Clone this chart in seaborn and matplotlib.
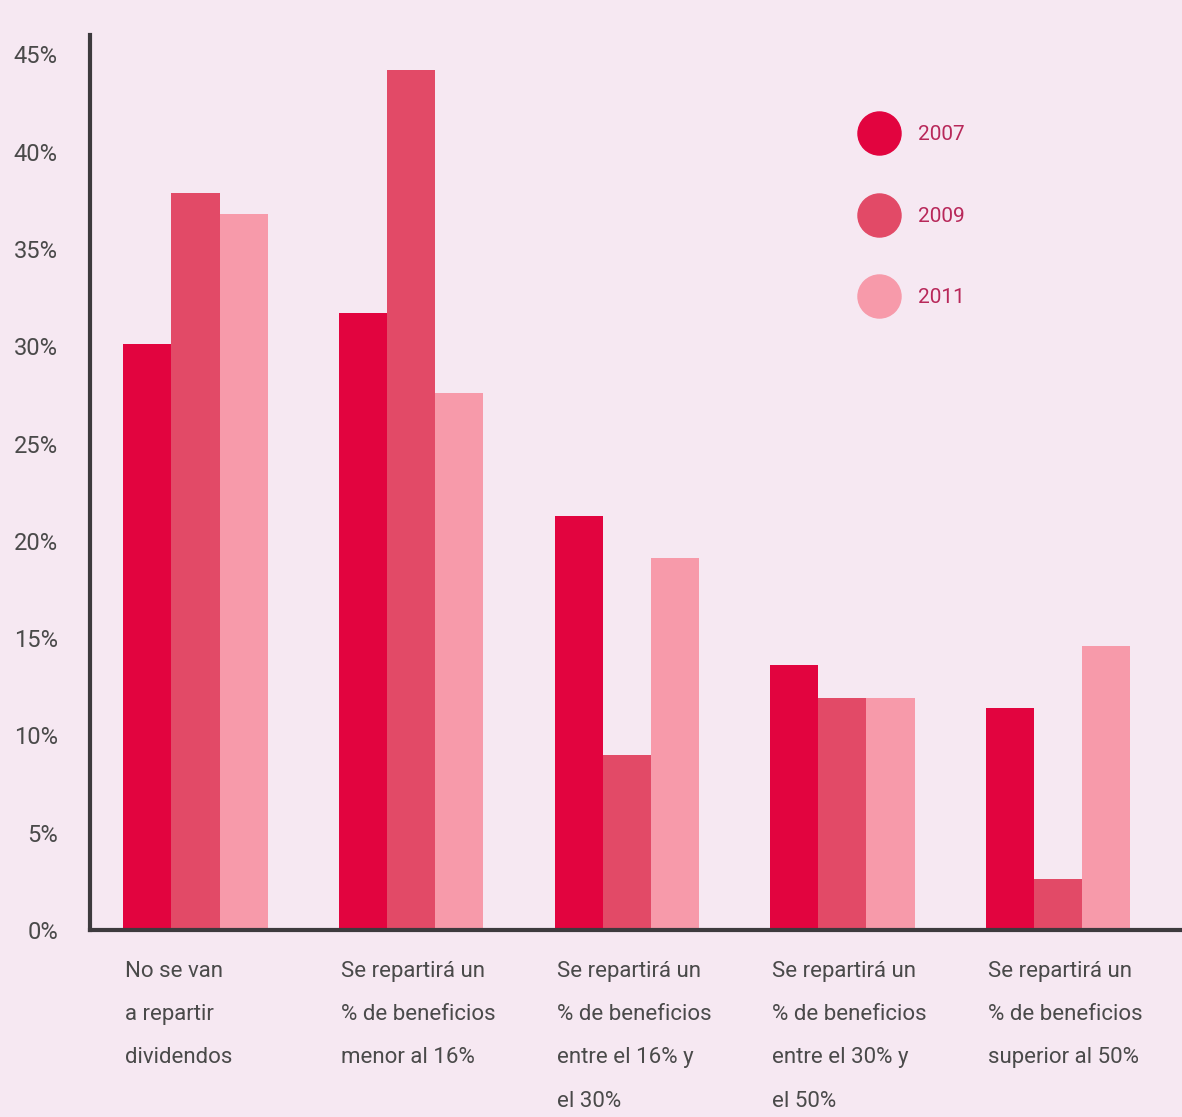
import numpy as np
import pandas as pd
import matplotlib
matplotlib.use("Agg")
import matplotlib.pyplot as plt
from matplotlib.lines import Line2D
import seaborn as sns

# Data
categories = [
    "No se van\na repartir\ndividendos",
    "Se repartirá un\n% de beneficios\nmenor al 16%",
    "Se repartirá un\n% de beneficios\nentre el 16% y\nel 30%",
    "Se repartirá un\n% de beneficios\nentre el 30% y\nel 50%",
    "Se repartirá un\n% de beneficios\nsuperior al 50%",
]
years = ["2007", "2009", "2011"]
v2007 = [30.1, 31.7, 21.3, 13.6, 11.4]
v2009 = [37.9, 44.2, 9.0, 11.9, 2.6]
v2011 = [36.8, 27.6, 19.1, 11.9, 14.6]
yticks = [0, 5, 10, 15, 20, 25, 30, 35, 40, 45]

colors = ["#e2043f", "#e24a67", "#f79aaa"]
bg = "#f6e8f2"
txt = "#4a4a4a"

df = pd.DataFrame({
    "cat": categories * 3,
    "year": sum([[y] * len(categories) for y in years], []),
    "value": v2007 + v2009 + v2011,
})

sns.set_style("white")
plt.rcParams["font.family"] = ["Roboto", "DejaVu Sans"]

fig = plt.figure(figsize=(11.82, 11.17), dpi=100, facecolor=bg)
ax = fig.add_axes([0.076, 0.1674, 0.924, 0.8013])
ax.set_facecolor(bg)

width = 0.67
sns.barplot(data=df, x="cat", y="value", hue="year", palette=colors,
            width=width, saturation=1, gap=0, linewidth=0, ax=ax, legend=False)

ax.set_xlim(-0.49, 4.575)
ax.set_ylim(0, 46)
ax.set_xlabel("")
ax.set_ylabel("")

# y ticks
ax.set_yticks(yticks)
ax.set_yticklabels([f"{t}%" for t in yticks], fontsize=17, color=txt)
ax.tick_params(axis="y", length=0, pad=23)

# x labels: left aligned at group's left edge
ax.set_xticks(np.arange(len(categories)) - width / 2 + 0.01)
ax.set_xticklabels(categories, ha="left", va="top", fontsize=16, color=txt,
                   linespacing=2.4)
ax.tick_params(axis="x", length=0, pad=22)

for s in ["top", "right"]:
    ax.spines[s].set_visible(False)
for s in ["left", "bottom"]:
    ax.spines[s].set_color("#3d3a3e")
    ax.spines[s].set_linewidth(3)

handles = [Line2D([], [], marker="o", ls="", markersize=31, color=c) for c in colors]
leg = ax.legend(handles, years, loc="upper left", bbox_to_anchor=(0.686, 0.92),
                frameon=False, labelspacing=3.0, handletextpad=0.9,
                fontsize=15, labelcolor="#b8285a")

fig.savefig("out.png", dpi=100, facecolor=bg)
